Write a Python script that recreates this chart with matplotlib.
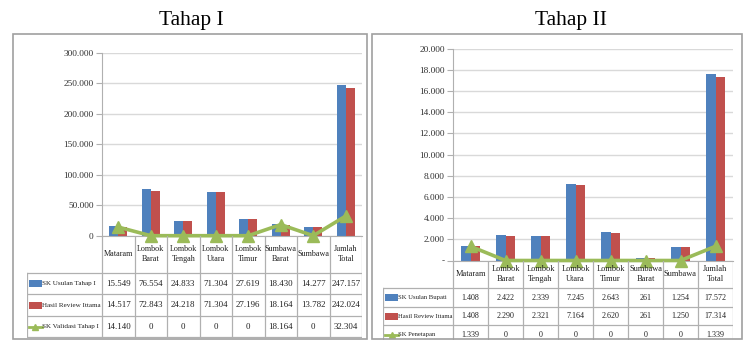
import matplotlib
matplotlib.use("Agg")
import matplotlib.pyplot as plt
from matplotlib.patches import Rectangle
from matplotlib.lines import Line2D

# data
categories = ["Mataram", "Lombok\nBarat", "Lombok\nTengah", "Lombok\nUtara",
              "Lombok\nTimur", "Sumbawa\nBarat", "Sumbawa", "Jumlah\nTotal"]

t1_names = ["SK Usulan Tahap I", "Hasil Review Ittama", "SK Validasi Tahap I"]
t1_usulan = [15549, 76554, 24833, 71304, 27619, 18430, 14277, 247157]
t1_review = [14517, 72843, 24218, 71304, 27196, 18164, 13782, 242024]
t1_validasi = [14140, 0, 0, 0, 0, 18164, 0, 32304]

t2_names = ["SK Usulan Bupati", "Hasil Review Ittama", "SK Penetapan"]
t2_usulan = [1408, 2422, 2339, 7245, 2643, 261, 1254, 17572]
t2_review = [1408, 2290, 2321, 7164, 2620, 261, 1250, 17314]
t2_penetapan = [1339, 0, 0, 0, 0, 0, 0, 1339]

BLUE = "#4F81BD"
RED = "#C0504D"
GREEN = "#9BBB59"
GRID = "#D9D9D9"
LINE = "#B0B0B0"

W, H = 745, 340
SERIF = ["Liberation Serif", "DejaVu Serif"]

fig = plt.figure(figsize=(W / 100, H / 100), dpi=100)


def rect(x0, y0, x1, y1):
    return [x0 / W, 1 - y1 / H, (x1 - x0) / W, (y1 - y0) / H]


def fmt(v, dash_zero=False):
    if v == 0 and dash_zero:
        return "-"
    return f"{v:,.0f}".replace(",", ".")


def panel(px0, px1, ptop, pbase, ymax, ystep, tab_x0, rows, bars, line, names,
          dash_zero, cat_fs, num_fs, lab_fs):
    n = len(categories)
    x = list(range(n))
    ax = fig.add_axes(rect(px0, ptop, px1, pbase))
    w = 0.28
    ax.bar([i - w / 2 for i in x], bars[0], width=w, color=BLUE, zorder=2)
    ax.bar([i + w / 2 for i in x], bars[1], width=w, color=RED, zorder=2)
    ax.plot(x, line, color=GREEN, lw=2.6, marker="^", ms=8, zorder=4,
            clip_on=False)
    ax.set_xlim(-0.5, n - 0.5)
    ax.set_ylim(0, ymax)
    ticks = list(range(0, ymax + 1, ystep))
    ax.set_yticks(ticks)
    ax.set_yticklabels([fmt(t, dash_zero) for t in ticks], family=SERIF,
                       fontsize=6.7, color="#303030")
    ax.set_xticks([])
    ax.yaxis.grid(True, color=GRID, lw=1)
    ax.set_axisbelow(True)
    for s in ["top", "right"]:
        ax.spines[s].set_visible(False)
    for s in ["left", "bottom"]:
        ax.spines[s].set_color(LINE)
    ax.tick_params(axis="y", length=4, color=LINE, pad=2)

    # table under the chart
    colw = (px1 - px0) / n
    lab = (px0 - tab_x0) / colw
    tx = fig.add_axes(rect(tab_x0, pbase, px1, rows[-1]))
    tx.set_xlim(-0.5 - lab, n - 0.5)
    tx.set_ylim(rows[-1], pbase)
    tx.axis("off")
    for k in range(n + 1):
        tx.plot([k - 0.5, k - 0.5], [pbase, rows[-1]], color=LINE, lw=0.9)
    tx.plot([-0.5 - lab] * 2, [rows[0], rows[-1]], color=LINE, lw=0.9)
    for r in rows:
        tx.plot([-0.5 - lab, n - 0.5], [r, r], color=LINE, lw=0.9)
    for i, c in enumerate(categories):
        tx.text(i, (pbase + rows[0]) / 2, c, ha="center", va="center",
                family=SERIF, fontsize=cat_fs, linespacing=1.35, color="#202020")
    series = [bars[0], bars[1], line]
    for r, (vals, nm) in enumerate(zip(series, names)):
        yc = (rows[r] + rows[r + 1]) / 2
        for i, v in enumerate(vals):
            tx.text(i, yc, fmt(v), ha="center", va="center", family=SERIF,
                    fontsize=num_fs, color="#202020")
        kx = -0.5 - lab + 2 / colw
        kw = 13 / colw
        if r < 2:
            tx.add_patch(Rectangle((kx, yc - 3.5), kw, 7,
                                   color=[BLUE, RED][r], lw=0))
        else:
            tx.add_line(Line2D([kx, kx + kw], [yc, yc], color=GREEN, lw=2))
            tx.plot([kx + kw / 2], [yc], marker="^", color=GREEN, ms=5)
        tx.text(kx + kw + 0.5 / colw, yc, nm, ha="left", va="center",
                family=SERIF, fontsize=lab_fs, color="#202020")


# Tahap I
panel(102, 362, 52.7, 235.7, 300000, 50000, 27, [273, 294.5, 316, 337.5],
      [t1_usulan, t1_review], t1_validasi, t1_names, False, 5.9, 6.4, 5.1)
# Tahap II
panel(453, 733, 48.5, 260.5, 20000, 2000, 383, [288.3, 306.8, 325.3, 343.8],
      [t2_usulan, t2_review], t2_penetapan, t2_names, True, 6.0, 5.8, 4.8)

# panel borders
for x0, x1 in [(13, 367), (372, 742)]:
    fig.add_artist(Rectangle((x0 / W, 1 - 339 / H), (x1 - x0) / W,
                             (339 - 34) / H, transform=fig.transFigure,
                             fill=False, edgecolor="#A0A0A0", lw=1.2))

fig.text(191 / W, 1 - 20 / H, "Tahap I", ha="center", va="center",
         family=SERIF, fontsize=15.5)
fig.text(571 / W, 1 - 20 / H, "Tahap II", ha="center", va="center",
         family=SERIF, fontsize=15.5)

fig.savefig("out.png", dpi=100, facecolor="white")
